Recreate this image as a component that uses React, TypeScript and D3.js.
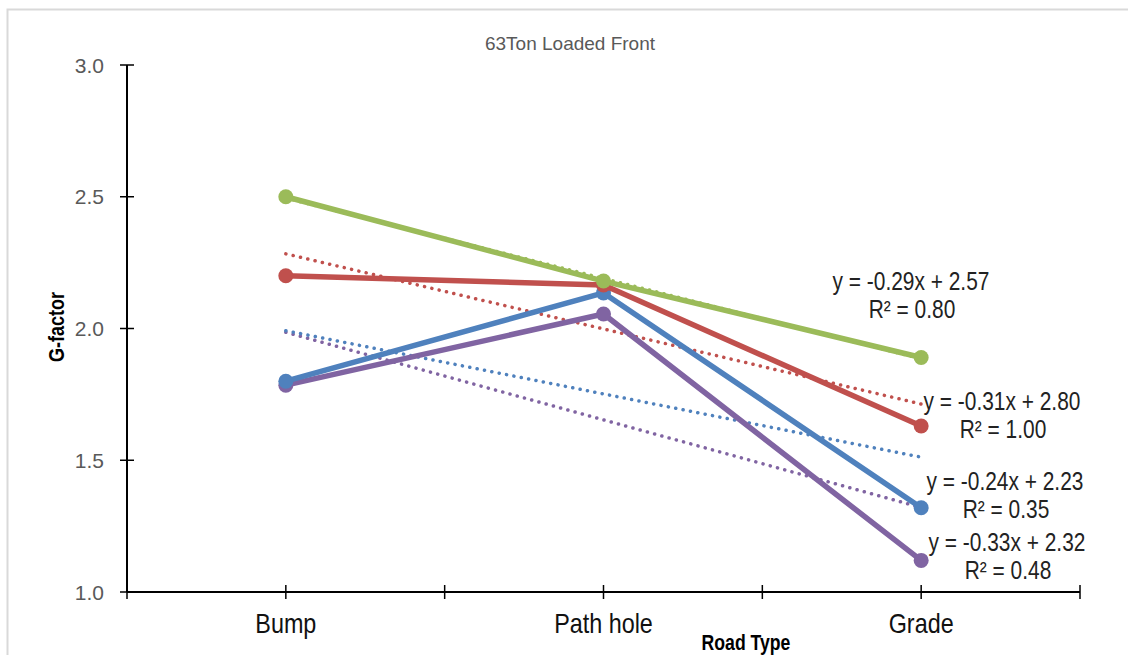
import React from 'react';
import * as d3 from 'd3';

// road types along the x axis
const CATEGORIES = ['Bump', 'Path hole', 'Grade'];

// G-factor per road type
const BLUE_VALUES = [1.8, 2.135, 1.32];
const RED_VALUES = [2.2, 2.165, 1.63];
const GREEN_VALUES = [2.5, 2.18, 1.89];
const PURPLE_VALUES = [1.785, 2.055, 1.12];

const Y_TICKS = [1.0, 1.5, 2.0, 2.5, 3.0];

// trendline labels as Excel printed them
const EQ_RED = ['y = -0.29x + 2.57', 'R² = 0.80'];
const EQ_GREEN = ['y = -0.31x + 2.80', 'R² = 1.00'];
const EQ_BLUE = ['y = -0.24x + 2.23', 'R² = 0.35'];
const EQ_PURPLE = ['y = -0.33x + 2.32', 'R² = 0.48'];

const W = 1128;
const H = 655;
const REGULAR = '"Liberation Sans", Arial, sans-serif';

// drawn bottom to top
const series = [
  { name: 'purple', values: PURPLE_VALUES, color: '#8064A2', eq: EQ_PURPLE, labelAt: [1007, 551] },
  { name: 'blue', values: BLUE_VALUES, color: '#4F81BD', eq: EQ_BLUE, labelAt: [1005, 490] },
  { name: 'red', values: RED_VALUES, color: '#C0504D', eq: EQ_RED, labelAt: [911, 290] },
  { name: 'green', values: GREEN_VALUES, color: '#9BBB59', eq: EQ_GREEN, labelAt: [1002, 410] },
];

// least squares on x = 1..n, like an Excel linear trendline
function linearFit(vals: number[]) {
  const xs = vals.map((_, i) => i + 1);
  const mx = d3.mean(xs) as number;
  const my = d3.mean(vals) as number;
  const sxy = d3.sum(xs, (x, i) => (x - mx) * (vals[i] - my));
  const sxx = d3.sum(xs, x => (x - mx) * (x - mx));
  const slope = sxy / sxx;
  return { slope, intercept: my - slope * mx };
}

// no Arial Narrow here, so squeeze Liberation Sans sideways
function Narrow({ x, y, size, bold, fill = '#000', rotate = 0, children }: any) {
  return (
    <text
      transform={`translate(${x},${y}) rotate(${rotate}) scale(0.82,1)`}
      textAnchor="middle"
      fontFamily={REGULAR}
      fontSize={size}
      fontWeight={bold ? 'bold' : 'normal'}
      fill={fill}
    >
      {children}
    </text>
  );
}

export default function App() {
  const left = 127;
  const right = 1080;
  const top = 65;
  const bottom = 592;

  const x = d3.scalePoint<string>().domain(CATEGORIES).range([left, right]).padding(0.5);
  const y = d3.scaleLinear().domain([1, 3]).range([bottom, top]);
  const step = x.step();
  const xTicks = d3.range(CATEGORIES.length * 2 + 1).map(i => left + (i * step) / 2);

  const line = d3
    .line<number>()
    .x((_, i) => x(CATEGORIES[i]) as number)
    .y(d => y(d));

  return (
    <svg
      width={W}
      height={H}
      style={{ position: 'absolute', left: 0, top: 0, background: '#fff' }}
    >
      <rect x={0} y={0} width={W} height={H} fill="#fff" />
      {/* chart frame */}
      <path d={`M7.5,${H} V9.5 H${W}`} fill="none" stroke="#d9d9d9" strokeWidth={2} />

      <text
        x={570}
        y={50}
        textAnchor="middle"
        fontFamily={REGULAR}
        fontSize={19}
        fill="#595959"
      >
        63Ton Loaded Front
      </text>

      {/* y axis */}
      <line x1={left} x2={left} y1={top} y2={bottom} stroke="#000" strokeWidth={2} />
      {Y_TICKS.map(t => (
        <g key={t}>
          <line x1={left - 7} x2={left + 7} y1={y(t)} y2={y(t)} stroke="#000" strokeWidth={1.5} />
          <text
            x={104}
            y={y(t) + 7.5}
            textAnchor="end"
            fontFamily={REGULAR}
            fontSize={21}
            fill="#595959"
          >
            {t.toFixed(1)}
          </text>
        </g>
      ))}
      <Narrow x={64} y={327} size={22} bold rotate={-90}>
        G-factor
      </Narrow>

      {/* x axis */}
      <line x1={left} x2={right} y1={bottom} y2={bottom} stroke="#000" strokeWidth={2} />
      {xTicks.map((t, i) => (
        <line key={i} x1={t} x2={t} y1={bottom - 7} y2={bottom + 7} stroke="#000" strokeWidth={1.5} />
      ))}
      {CATEGORIES.map(c => (
        <Narrow key={c} x={x(c)} y={633} size={28.5} fill="#111">
          {c}
        </Narrow>
      ))}
      <Narrow x={746} y={650} size={21.5} bold>
        Road Type
      </Narrow>

      {/* dotted linear trendlines */}
      {series.map(s => {
        const fit = linearFit(s.values);
        const ends = [1, CATEGORIES.length];
        return (
          <line
            key={s.name + '-trend'}
            x1={x(CATEGORIES[0])}
            x2={x(CATEGORIES[CATEGORIES.length - 1])}
            y1={y(fit.intercept + fit.slope * ends[0])}
            y2={y(fit.intercept + fit.slope * ends[1])}
            stroke={s.color}
            strokeWidth={3.5}
            strokeDasharray="0.1 7.4"
            strokeLinecap="round"
          />
        );
      })}

      {/* series */}
      {series.map(s => (
        <g key={s.name}>
          <path d={line(s.values) || ''} fill="none" stroke={s.color} strokeWidth={5.5} strokeLinejoin="round" />
          {s.values.map((v, i) => (
            <circle key={i} cx={x(CATEGORIES[i])} cy={y(v)} r={7.5} fill={s.color} />
          ))}
        </g>
      ))}

      {/* trendline equations */}
      {series.map(s => (
        <g key={s.name + '-eq'}>
          <Narrow x={s.labelAt[0]} y={s.labelAt[1]} size={25.5} fill="#222">
            {s.eq[0]}
          </Narrow>
          <Narrow x={s.labelAt[0] + 1} y={s.labelAt[1] + 28} size={25.5} fill="#222">
            {s.eq[1]}
          </Narrow>
        </g>
      ))}
    </svg>
  );
}
